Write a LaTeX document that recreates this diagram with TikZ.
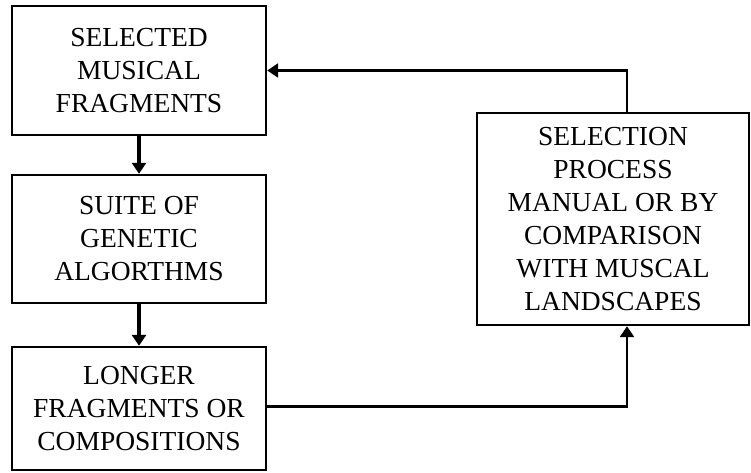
\documentclass[tikz,border=0pt]{standalone}
\usepackage{fontspec}
\setmainfont{Liberation Serif}
\usetikzlibrary{arrows.meta}

\tikzset{
  stage/.style={draw, line width=2.4pt, align=center, inner sep=0pt,
    font=\fontsize{27.5}{33}\selectfont},
  flow/.style={line width=3.4pt, -{Triangle[width=14pt,length=11pt]}},
  back/.style={line width=2.4pt, -{Triangle[width=14pt,length=11pt]}}
}

\begin{document}
\begin{tikzpicture}[x=1pt,y=-1pt]
      \useasboundingbox (0,0) rectangle (751,472);
      \node[stage, minimum width=254pt, minimum height=129pt] (sel) at (139,70.5)
        {SELECTED\\MUSICAL\\FRAGMENTS};
      \node[stage, minimum width=254pt, minimum height=128pt] (suite) at (139,239)
        {SUITE OF\\GENETIC\\ALGORTHMS};
      \node[stage, minimum width=254pt, minimum height=123pt] (longer) at (139,408.5)
        {LONGER\\FRAGMENTS OR\\COMPOSITIONS};
      \node[stage, minimum width=272pt, minimum height=212pt] (proc) at (613,219)
        {SELECTION\\PROCESS\\MANUAL OR BY\\COMPARISON\\WITH MUSCAL\\LANDSCAPES};
      \begin{scope}
        \draw[flow] (sel) to (suite);
        \draw[flow] (suite) to (longer);
        \draw[back] ([yshift=2pt]longer.east) -| ([xshift=14pt]proc.south);
        \draw[back] ([xshift=14pt]proc.north) |- (sel.east);
      \end{scope}
    \end{tikzpicture}
\end{document}
